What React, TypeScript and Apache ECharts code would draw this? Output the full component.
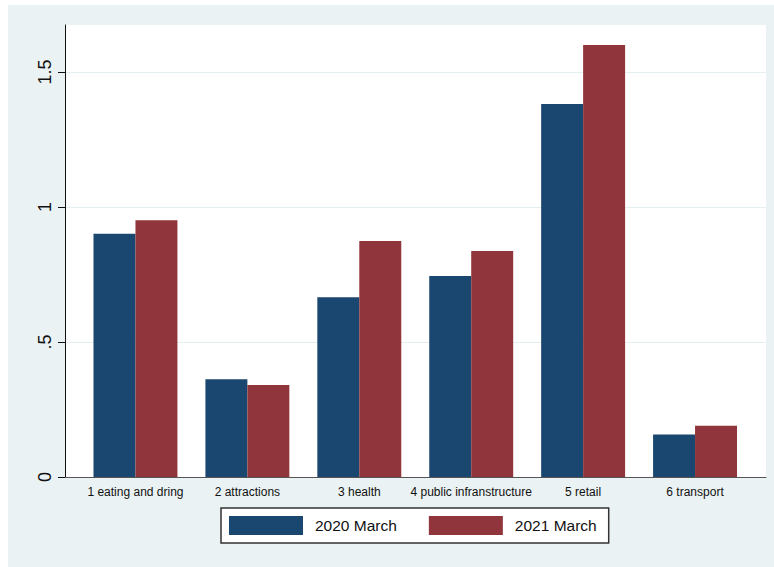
import React, { useEffect, useRef } from "react";
import * as echarts from "echarts";

const categories = [
  "1 eating and dring",
  "2 attractions",
  "3 health",
  "4 public infranstructure",
  "5 retail",
  "6 transport",
];
const march2020 = [0.901, 0.362, 0.666, 0.744, 1.381, 0.157];
const march2021 = [0.951, 0.341, 0.874, 0.837, 1.6, 0.19];
const yTickValues = [0, 0.5, 1, 1.5];
const yTickLabels = ["0", ".5", "1", "1.5"];
const seriesNames = ["2020 March", "2021 March"];

const Y_MIN = 0;
const Y_MAX = 1.674;
const FONT = "'Liberation Sans', Arial, Helvetica, sans-serif";

export default function App() {
  const ref = useRef<HTMLDivElement>(null);

  useEffect(() => {
    if (!ref.current) return;
    const chart = echarts.init(ref.current, undefined, { renderer: "svg" });
    chart.setOption({
      animation: false,
      backgroundColor: "#EAF2F3",
      textStyle: { fontFamily: FONT },
      grid: [
        {
          left: 57,
          right: 8,
          top: 20,
          bottom: 90,
          show: true,
          backgroundColor: "#ffffff",
          borderWidth: 0,
        },
        {
          left: 71.5,
          right: 23,
          top: 20,
          bottom: 90,
          show: false,
        },
      ],
      xAxis: [
        {
          gridIndex: 0,
          type: "value",
          min: 0,
          max: 1,
          axisLine: { show: true, lineStyle: { color: "#555555", width: 1 } },
          axisTick: { show: false },
          axisLabel: { show: false },
          splitLine: { show: false },
        },
        {
          gridIndex: 1,
          type: "category",
          data: categories,
          axisLine: { show: false },
          axisTick: { show: false },
          axisLabel: {
            color: "#111111",
            fontSize: 12,
            margin: 9,
            interval: 0,
            fontFamily: FONT,
          },
          splitLine: { show: false },
        },
      ],
      yAxis: [
        {
          gridIndex: 0,
          type: "value",
          min: Y_MIN,
          max: Y_MAX,
          axisLine: { show: true, lineStyle: { color: "#111111", width: 1 } },
          axisTick: {
            show: true,
            length: 7,
            customValues: yTickValues,
            lineStyle: { color: "#111111", width: 1 },
          },
          axisLabel: {
            show: true,
            rotate: 90,
            fontSize: 18,
            color: "#111111",
            margin: 11,
            fontFamily: FONT,
            customValues: yTickValues,
            formatter: (v: number) => {
              const i = yTickValues.indexOf(v);
              return i >= 0 ? yTickLabels[i] : "";
            },
          },
          splitLine: {
            show: true,
            lineStyle: { color: "#E4EEF0", width: 1.2 },
          },
        },
        {
          gridIndex: 1,
          type: "value",
          min: Y_MIN,
          max: Y_MAX,
          show: false,
          splitLine: { show: false },
        },
      ],
      legend: {
        left: 213,
        top: 503,
        orient: "horizontal",
        itemWidth: 74,
        itemHeight: 19,
        itemGap: 32,
        icon: "rect",
        backgroundColor: "#ffffff",
        borderColor: "#333333",
        borderWidth: 1.5,
        borderRadius: 0,
        padding: [8, 12, 8, 8],
        textStyle: {
          fontSize: 15.5,
          color: "#111111",
          fontFamily: FONT,
          padding: [0, 0, 0, 7],
        },
        data: seriesNames,
      },
      series: [
        {
          name: seriesNames[0],
          type: "bar",
          xAxisIndex: 1,
          yAxisIndex: 1,
          data: march2020,
          barGap: "0%",
          barCategoryGap: "25%",
          itemStyle: { color: "#1A476F" },
        },
        {
          name: seriesNames[1],
          type: "bar",
          xAxisIndex: 1,
          yAxisIndex: 1,
          data: march2021,
          barGap: "0%",
          barCategoryGap: "25%",
          itemStyle: { color: "#90353B" },
        },
      ],
    });
    return () => chart.dispose();
  }, []);

  return (
    <div
      ref={ref}
      style={{
        position: "fixed",
        left: 8,
        top: 5,
        width: 766,
        height: 562,
      }}
    />
  );
}
